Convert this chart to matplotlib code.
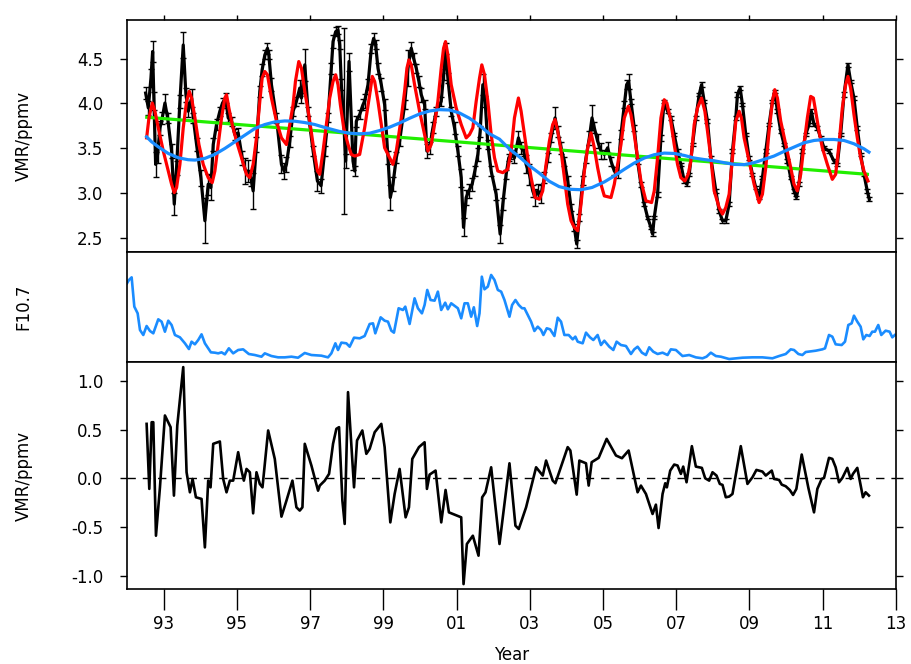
import matplotlib
matplotlib.use("Agg")
import matplotlib.pyplot as plt

# monthly mean VMR with 1-sigma errors
years = [1992.509, 1992.582, 1992.654, 1992.700, 1992.736, 1992.782, 1992.836, 1992.900, 1992.963,
         1993.036, 1993.109, 1993.218, 1993.291, 1993.354, 1993.445, 1993.536, 1993.609, 1993.673,
         1993.764, 1993.809, 1993.900, 1994.018, 1994.127, 1994.218, 1994.291, 1994.355, 1994.445,
         1994.536, 1994.609, 1994.691, 1994.764, 1994.855, 1994.945, 1995.036, 1995.145, 1995.236,
         1995.309, 1995.382, 1995.445, 1995.536, 1995.627, 1995.691, 1995.764, 1995.836, 1995.873,
         1995.945, 1996.082, 1996.218, 1996.291, 1996.354, 1996.445, 1996.536, 1996.627, 1996.718,
         1996.764, 1996.855, 1996.945, 1997.082, 1997.200, 1997.300, 1997.399, 1997.490, 1997.581,
         1997.627, 1997.699, 1997.763, 1997.809, 1997.854, 1997.918, 1997.972, 1998.063, 1998.172,
         1998.218, 1998.263, 1998.354, 1998.445, 1998.490, 1998.581, 1998.672, 1998.736, 1998.790,
         1998.854, 1998.945, 1999.036, 1999.127, 1999.191, 1999.263, 1999.354, 1999.445, 1999.581,
         1999.672, 1999.763, 1999.827, 1999.900, 1999.972, 2000.036, 2000.127, 2000.190, 2000.263,
         2000.354, 2000.445, 2000.581, 2000.645, 2000.699, 2000.763, 2000.854, 2000.945, 2001.036,
         2001.127, 2001.190, 2001.263, 2001.335, 2001.426, 2001.499, 2001.581, 2001.645, 2001.717,
         2001.781, 2001.854, 2001.945, 2002.081, 2002.190, 2002.263, 2002.354, 2002.426, 2002.490,
         2002.581, 2002.690, 2002.763, 2002.835, 2002.899, 2002.990, 2003.081, 2003.145, 2003.217,
         2003.308, 2003.399, 2003.490, 2003.581, 2003.690, 2003.763, 2003.854, 2003.944, 2004.035,
         2004.126, 2004.217, 2004.281, 2004.354, 2004.444, 2004.535, 2004.626, 2004.699, 2004.762,
         2004.853, 2004.944, 2005.035, 2005.126, 2005.217, 2005.308, 2005.399, 2005.490, 2005.581,
         2005.644, 2005.699, 2005.762, 2005.853, 2005.944, 2006.035, 2006.126, 2006.217, 2006.308,
         2006.353, 2006.399, 2006.490, 2006.581, 2006.671, 2006.762, 2006.853, 2006.944, 2007.035,
         2007.126, 2007.217, 2007.290, 2007.354, 2007.444, 2007.535, 2007.626, 2007.690, 2007.762,
         2007.853, 2007.944, 2008.081, 2008.171, 2008.262, 2008.353, 2008.444, 2008.535, 2008.626,
         2008.671, 2008.744, 2008.808, 2008.898, 2008.989, 2009.080, 2009.171, 2009.262, 2009.353,
         2009.444, 2009.535, 2009.626, 2009.690, 2009.762, 2009.853, 2009.944, 2010.035, 2010.126,
         2010.216, 2010.280, 2010.353, 2010.444, 2010.535, 2010.626, 2010.689, 2010.762, 2010.853,
         2010.944, 2011.035, 2011.171, 2011.307, 2011.398, 2011.489, 2011.580, 2011.689, 2011.762,
         2011.853, 2011.944, 2012.035, 2012.126, 2012.216, 2012.271]
vmr = [4.114, 3.948, 4.281, 4.578, 4.022, 3.318, 3.429, 3.726, 3.837,
       4.003, 3.837, 3.467, 2.874, 3.281, 4.022, 4.651, 4.096, 3.911,
       4.059, 3.837, 3.540, 3.170, 2.689, 3.096, 3.059, 3.540, 3.762,
       3.911, 4.003, 4.059, 3.837, 3.800, 3.651, 3.670, 3.392, 3.244,
       3.244, 3.170, 3.022, 3.540, 4.133, 4.374, 4.540, 4.614, 4.540,
       4.207, 3.837, 3.318, 3.244, 3.318, 3.577, 3.911, 4.022, 4.170,
       4.059, 4.429, 3.911, 3.467, 3.133, 3.080, 3.467, 3.837, 4.392,
       4.689, 4.800, 4.818, 4.651, 4.207, 3.800, 3.355, 4.466, 3.355,
       3.244, 3.800, 3.874, 3.985, 4.022, 4.207, 4.614, 4.725, 4.651,
       4.392, 4.207, 3.985, 3.392, 2.948, 3.096, 3.392, 3.577, 3.985,
       4.392, 4.614, 4.503, 4.392, 4.244, 4.096, 3.985, 3.467, 3.503,
       3.726, 3.911, 4.022, 4.318, 4.614, 4.281, 3.911, 3.726, 3.467,
       3.170, 2.615, 2.948, 3.022, 3.096, 3.244, 3.429, 3.688, 4.207,
       4.022, 3.540, 3.244, 2.985, 2.540, 2.874, 3.207, 3.392, 3.429,
       3.392, 3.614, 3.503, 3.467, 3.318, 3.207, 3.022, 2.948, 3.022,
       2.985, 3.170, 3.392, 3.614, 3.837, 3.689, 3.503, 3.355, 3.133,
       2.837, 2.615, 2.429, 2.726, 3.133, 3.392, 3.614, 3.837, 3.726,
       3.577, 3.467, 3.429, 3.503, 3.355, 3.244, 3.207, 3.651, 3.985,
       4.207, 4.244, 4.022, 3.726, 3.355, 3.096, 2.874, 2.726, 2.615,
       2.540, 2.726, 2.985, 3.614, 4.022, 3.911, 3.837, 3.651, 3.467,
       3.318, 3.133, 3.096, 3.207, 3.540, 3.837, 4.096, 4.207, 4.022,
       3.800, 3.392, 3.022, 2.800, 2.689, 2.689, 2.874, 3.467, 3.837,
       4.096, 4.170, 3.985, 3.651, 3.392, 3.207, 3.059, 2.948, 3.170,
       3.467, 3.763, 4.022, 4.133, 3.911, 3.689, 3.540, 3.355, 3.170,
       3.022, 2.948, 3.096, 3.467, 3.651, 3.763, 3.911, 3.763, 3.726,
       3.614, 3.503, 3.467, 3.355, 3.318, 3.651, 4.096, 4.429, 4.244,
       4.059, 3.726, 3.429, 3.207, 3.022, 2.929]
vmr_err = [0.07, 0.08, 0.10, 0.12, 0.10, 0.14, 0.09, 0.08, 0.07,
           0.10, 0.06, 0.08, 0.12, 0.08, 0.07, 0.14, 0.08, 0.06,
           0.10, 0.06, 0.07, 0.09, 0.25, 0.12, 0.14, 0.07, 0.06,
           0.05, 0.06, 0.06, 0.05, 0.05, 0.06, 0.05, 0.08, 0.15,
           0.12, 0.09, 0.20, 0.08, 0.06, 0.07, 0.05, 0.06, 0.05,
           0.07, 0.06, 0.10, 0.09, 0.08, 0.06, 0.05, 0.05, 0.09,
           0.06, 0.18, 0.05, 0.06, 0.11, 0.08, 0.06, 0.05, 0.06,
           0.07, 0.05, 0.04, 0.05, 0.06, 1.04, 0.08, 0.10, 0.10,
           0.06, 0.06, 0.05, 0.06, 0.08, 0.06, 0.05, 0.06, 0.05,
           0.06, 0.07, 0.06, 0.07, 0.14, 0.08, 0.06, 0.05, 0.05,
           0.20, 0.07, 0.06, 0.05, 0.06, 0.08, 0.05, 0.08, 0.07,
           0.06, 0.05, 0.05, 0.06, 0.06, 0.06, 0.05, 0.07, 0.06,
           0.10, 0.10, 0.08, 0.08, 0.07, 0.06, 0.07, 0.06, 0.12,
           0.06, 0.05, 0.06, 0.06, 0.10, 0.07, 0.05, 0.04, 0.05,
           0.06, 0.08, 0.07, 0.06, 0.10, 0.12, 0.07, 0.10, 0.08,
           0.10, 0.06, 0.05, 0.05, 0.12, 0.06, 0.07, 0.05, 0.05,
           0.04, 0.04, 0.04, 0.04, 0.05, 0.06, 0.08, 0.14, 0.06,
           0.08, 0.09, 0.05, 0.06, 0.05, 0.04, 0.04, 0.05, 0.04,
           0.05, 0.08, 0.03, 0.03, 0.03, 0.03, 0.02, 0.02, 0.02,
           0.02, 0.02, 0.03, 0.03, 0.02, 0.02, 0.02, 0.02, 0.02,
           0.02, 0.02, 0.02, 0.02, 0.02, 0.02, 0.02, 0.03, 0.02,
           0.02, 0.02, 0.02, 0.02, 0.02, 0.02, 0.02, 0.02, 0.02,
           0.03, 0.02, 0.02, 0.02, 0.02, 0.02, 0.02, 0.02, 0.02,
           0.02, 0.02, 0.02, 0.02, 0.02, 0.02, 0.02, 0.02, 0.02,
           0.02, 0.02, 0.02, 0.02, 0.02, 0.02, 0.02, 0.02, 0.02,
           0.02, 0.02, 0.02, 0.02, 0.02, 0.02, 0.03, 0.02, 0.02,
           0.02, 0.02, 0.02, 0.02, 0.02, 0.02]

# regression model (seasonal + QBO + solar + trend)
fit_years = [1992.536, 1992.600, 1992.691, 1992.763, 1992.854, 1992.991, 1993.127, 1993.218, 1993.291,
             1993.354, 1993.445, 1993.536, 1993.627, 1993.700, 1993.764, 1993.855, 1993.964, 1994.082,
             1994.218, 1994.327, 1994.400, 1994.491, 1994.582, 1994.673, 1994.718, 1994.782, 1994.873,
             1994.991, 1995.127, 1995.264, 1995.354, 1995.445, 1995.536, 1995.627, 1995.691, 1995.764,
             1995.836, 1995.945, 1996.082, 1996.218, 1996.354, 1996.445, 1996.536, 1996.600, 1996.691,
             1996.764, 1996.855, 1996.964, 1997.082, 1997.200, 1997.263, 1997.354, 1997.445, 1997.536,
             1997.627, 1997.699, 1997.763, 1997.827, 1997.918, 1998.036, 1998.127, 1998.218, 1998.354,
             1998.490, 1998.627, 1998.699, 1998.763, 1998.854, 1998.945, 1999.036, 1999.172, 1999.263,
             1999.354, 1999.490, 1999.581, 1999.645, 1999.699, 1999.763, 1999.854, 1999.990, 2000.127,
             2000.218, 2000.308, 2000.399, 2000.490, 2000.581, 2000.645, 2000.699, 2000.763, 2000.854,
             2000.990, 2001.127, 2001.263, 2001.354, 2001.445, 2001.536, 2001.627, 2001.690, 2001.763,
             2001.854, 2001.945, 2002.036, 2002.126, 2002.263, 2002.399, 2002.490, 2002.581, 2002.690,
             2002.763, 2002.854, 2002.945, 2003.036, 2003.145, 2003.263, 2003.353, 2003.444, 2003.535,
             2003.626, 2003.690, 2003.763, 2003.854, 2003.944, 2004.035, 2004.126, 2004.217, 2004.308,
             2004.399, 2004.490, 2004.581, 2004.671, 2004.762, 2004.853, 2004.944, 2005.035, 2005.217,
             2005.308, 2005.399, 2005.490, 2005.581, 2005.690, 2005.762, 2005.853, 2005.944, 2006.035,
             2006.172, 2006.326, 2006.399, 2006.490, 2006.581, 2006.671, 2006.744, 2006.835, 2006.944,
             2007.035, 2007.126, 2007.235, 2007.326, 2007.399, 2007.490, 2007.581, 2007.690, 2007.781,
             2007.853, 2007.944, 2008.035, 2008.171, 2008.262, 2008.353, 2008.444, 2008.535, 2008.626,
             2008.717, 2008.780, 2008.853, 2008.989, 2009.126, 2009.262, 2009.353, 2009.444, 2009.535,
             2009.626, 2009.690, 2009.762, 2009.853, 2009.990, 2010.126, 2010.216, 2010.307, 2010.398,
             2010.489, 2010.580, 2010.671, 2010.744, 2010.807, 2010.898, 2010.989, 2011.126, 2011.262,
             2011.353, 2011.444, 2011.535, 2011.626, 2011.689, 2011.762, 2011.853, 2011.944, 2012.035,
             2012.126, 2012.235]
fit_vmr = [3.614, 3.837, 4.003, 3.911, 3.726, 3.467, 3.244, 3.096, 3.003,
           3.059, 3.318, 3.726, 4.022, 4.133, 4.059, 3.837, 3.540, 3.318,
           3.170, 3.114, 3.244, 3.540, 3.837, 4.059, 4.096, 3.948, 3.763,
           3.577, 3.392, 3.207, 3.170, 3.318, 3.614, 4.022, 4.281, 4.355,
           4.318, 4.059, 3.800, 3.614, 3.540, 3.763, 3.985, 4.244, 4.466,
           4.392, 4.133, 3.874, 3.540, 3.244, 3.207, 3.467, 3.763, 4.059,
           4.244, 4.318, 4.207, 3.985, 3.726, 3.540, 3.429, 3.411, 3.429,
           3.726, 4.096, 4.300, 4.244, 4.022, 3.763, 3.503, 3.392, 3.318,
           3.467, 3.837, 4.133, 4.392, 4.484, 4.429, 4.207, 3.911, 3.651,
           3.467, 3.540, 3.763, 4.022, 4.392, 4.614, 4.689, 4.540, 4.207,
           3.948, 3.763, 3.614, 3.651, 3.726, 4.022, 4.281, 4.429, 4.318,
           4.022, 3.651, 3.392, 3.244, 3.226, 3.263, 3.467, 3.837, 4.059,
           3.911, 3.651, 3.392, 3.170, 2.948, 2.929, 3.022, 3.318, 3.577,
           3.763, 3.818, 3.689, 3.467, 3.170, 2.874, 2.689, 2.615, 2.577,
           2.874, 3.244, 3.503, 3.670, 3.503, 3.281, 3.096, 2.966, 2.948,
           3.096, 3.318, 3.540, 3.837, 3.966, 3.874, 3.651, 3.392, 3.133,
           2.911, 2.892, 3.022, 3.392, 3.837, 4.040, 4.003, 3.837, 3.540,
           3.318, 3.170, 3.133, 3.207, 3.355, 3.763, 3.948, 4.059, 3.911,
           3.689, 3.392, 3.022, 2.837, 2.763, 2.837, 2.985, 3.392, 3.800,
           3.911, 3.837, 3.614, 3.355, 3.096, 2.892, 2.985, 3.281, 3.689,
           4.022, 4.152, 4.059, 3.800, 3.540, 3.281, 3.096, 3.022, 3.207,
           3.540, 3.837, 4.077, 4.059, 3.911, 3.689, 3.503, 3.318, 3.151,
           3.207, 3.540, 3.948, 4.207, 4.300, 4.170, 3.874, 3.614, 3.392,
           3.244, 3.133]

# linear trend term
trend_years = [1992.54, 2012.22]
trend_vmr = [3.844, 3.207]

# solar-cycle term
solar_years = [1992.536, 1992.673, 1992.854, 1993.127, 1993.400, 1993.670, 1993.860, 1994.127, 1994.400,
               1994.673, 1994.945, 1995.218, 1995.490, 1995.764, 1996.036, 1996.309, 1996.582, 1996.855,
               1997.127, 1997.400, 1997.536, 1997.809, 1998.081, 1998.354, 1998.627, 1998.900, 1999.170,
               1999.445, 1999.718, 1999.990, 2000.263, 2000.536, 2000.810, 2001.080, 2001.354, 2001.627,
               2001.900, 2002.172, 2002.445, 2002.720, 2003.000, 2003.260, 2003.530, 2003.800, 2004.100,
               2004.400, 2004.700, 2005.035, 2005.308, 2005.581, 2005.853, 2006.126, 2006.399, 2006.671,
               2006.944, 2007.217, 2007.490, 2007.762, 2008.035, 2008.308, 2008.580, 2008.853, 2009.126,
               2009.400, 2009.670, 2009.944, 2010.216, 2010.489, 2010.762, 2011.035, 2011.307, 2011.580,
               2011.853, 2012.126, 2012.262]
solar_vmr = [3.625, 3.570, 3.514, 3.440, 3.392, 3.370, 3.366, 3.385, 3.430,
             3.496, 3.570, 3.644, 3.718, 3.763, 3.792, 3.803, 3.800, 3.785,
             3.763, 3.730, 3.715, 3.685, 3.666, 3.659, 3.666, 3.696, 3.733,
             3.780, 3.833, 3.881, 3.914, 3.929, 3.925, 3.892, 3.833, 3.752,
             3.659, 3.600, 3.490, 3.400, 3.300, 3.220, 3.130, 3.070, 3.040,
             3.035, 3.060, 3.122, 3.189, 3.263, 3.333, 3.389, 3.426, 3.444,
             3.440, 3.418, 3.389, 3.372, 3.358, 3.337, 3.318, 3.315, 3.337,
             3.374, 3.411, 3.463, 3.511, 3.559, 3.585, 3.596, 3.596, 3.585,
             3.548, 3.492, 3.455]

# monthly F10.7 solar flux
f107_years = [1992.000, 1992.055, 1992.127, 1992.200, 1992.291, 1992.355, 1992.445, 1992.536, 1992.627,
              1992.718, 1992.854, 1992.945, 1993.036, 1993.127, 1993.218, 1993.309, 1993.445, 1993.582,
              1993.691, 1993.764, 1993.854, 1993.945, 1994.036, 1994.127, 1994.291, 1994.400, 1994.491,
              1994.582, 1994.673, 1994.782, 1994.900, 1995.036, 1995.172, 1995.327, 1995.491, 1995.673,
              1995.763, 1995.945, 1996.127, 1996.309, 1996.491, 1996.672, 1996.854, 1997.036, 1997.309,
              1997.490, 1997.581, 1997.691, 1997.763, 1997.854, 1997.990, 1998.081, 1998.200, 1998.354,
              1998.490, 1998.627, 1998.718, 1998.781, 1998.927, 1999.036, 1999.127, 1999.218, 1999.290,
              1999.418, 1999.536, 1999.600, 1999.718, 1999.854, 1999.945, 2000.054, 2000.127, 2000.200,
              2000.290, 2000.400, 2000.490, 2000.581, 2000.690, 2000.763, 2000.854, 2001.036, 2001.127,
              2001.218, 2001.308, 2001.399, 2001.472, 2001.563, 2001.627, 2001.690, 2001.763, 2001.854,
              2001.945, 2002.036, 2002.127, 2002.218, 2002.309, 2002.445, 2002.517, 2002.608, 2002.699,
              2002.790, 2002.854, 2002.945, 2003.036, 2003.126, 2003.217, 2003.308, 2003.372, 2003.463,
              2003.554, 2003.672, 2003.763, 2003.853, 2003.944, 2004.062, 2004.172, 2004.244, 2004.308,
              2004.444, 2004.535, 2004.644, 2004.735, 2004.853, 2004.944, 2005.035, 2005.172, 2005.281,
              2005.371, 2005.490, 2005.626, 2005.762, 2005.853, 2005.944, 2006.062, 2006.171, 2006.262,
              2006.371, 2006.490, 2006.626, 2006.762, 2006.853, 2006.990, 2007.171, 2007.353, 2007.535,
              2007.717, 2007.826, 2007.944, 2008.081, 2008.217, 2008.444, 2008.808, 2009.080, 2009.353,
              2009.626, 2009.808, 2009.990, 2010.126, 2010.216, 2010.335, 2010.444, 2010.535, 2010.808,
              2010.990, 2011.062, 2011.171, 2011.262, 2011.353, 2011.517, 2011.608, 2011.699, 2011.790,
              2011.853, 2011.944, 2012.035, 2012.108, 2012.190, 2012.280, 2012.353, 2012.426, 2012.517,
              2012.599, 2012.717, 2012.826, 2012.899, 2012.971]
f107 = [214.2, 220.8, 226.0, 168.2, 155.0, 122.1, 112.3, 130.0, 120.2,
        115.6, 143.2, 138.6, 118.8, 140.5, 132.0, 112.3, 107.7, 95.9,
        84.6, 99.1, 93.9, 102.4, 113.6, 95.9, 78.1, 77.4, 76.1,
        78.1, 74.1, 86.0, 76.1, 82.7, 84.0, 74.8, 72.8, 69.5,
        76.1, 70.8, 68.2, 68.2, 69.5, 67.5, 76.8, 72.8, 71.5,
        68.2, 76.1, 95.9, 82.7, 97.2, 95.9, 89.2, 107.0, 105.7,
        110.3, 134.0, 135.3, 115.6, 147.1, 140.5, 138.6, 120.8, 116.9,
        165.0, 161.6, 168.2, 134.0, 184.6, 165.0, 155.0, 171.5, 201.1,
        181.3, 180.0, 197.8, 161.6, 176.0, 163.0, 174.8, 165.0, 145.2,
        174.8, 174.8, 148.4, 166.9, 130.0, 155.0, 227.3, 202.4, 207.7,
        230.7, 220.8, 201.1, 197.8, 181.3, 148.4, 171.5, 181.3, 171.5,
        165.0, 165.0, 151.7, 138.6, 120.2, 128.7, 122.1, 112.3, 125.5,
        123.5, 110.3, 146.4, 138.6, 112.3, 112.3, 103.7, 109.0, 99.1,
        95.9, 116.9, 107.7, 102.4, 112.3, 92.5, 101.0, 89.2, 82.7,
        99.1, 92.5, 90.6, 74.8, 84.0, 89.2, 77.4, 72.8, 88.0,
        79.4, 74.8, 77.4, 72.8, 84.0, 82.7, 70.8, 72.8, 68.2,
        66.3, 69.5, 77.4, 70.8, 69.5, 64.9, 67.5, 68.2, 68.2,
        66.3, 70.8, 74.8, 84.0, 82.7, 74.8, 72.8, 78.7, 81.3,
        84.0, 86.0, 112.3, 109.0, 93.9, 92.5, 99.1, 132.0, 135.3,
        150.4, 138.6, 128.7, 103.7, 112.3, 110.3, 118.8, 118.8, 132.0,
        112.3, 120.8, 118.8, 107.7, 112.3]

# residuals: data minus model
res_years = [1992.536, 1992.609, 1992.673, 1992.718, 1992.791, 1992.900, 1993.036, 1993.191, 1993.282,
             1993.373, 1993.536, 1993.627, 1993.718, 1993.791, 1993.882, 1994.036, 1994.127, 1994.218,
             1994.282, 1994.355, 1994.536, 1994.627, 1994.718, 1994.809, 1994.900, 1995.036, 1995.127,
             1995.191, 1995.264, 1995.355, 1995.445, 1995.536, 1995.627, 1995.700, 1995.855, 1996.036,
             1996.218, 1996.355, 1996.518, 1996.627, 1996.718, 1996.791, 1996.855, 1997.036, 1997.218,
             1997.264, 1997.400, 1997.518, 1997.627, 1997.718, 1997.791, 1997.882, 1997.945, 1998.036,
             1998.200, 1998.282, 1998.427, 1998.536, 1998.627, 1998.764, 1998.945, 1999.036, 1999.191,
             1999.309, 1999.445, 1999.609, 1999.700, 1999.791, 1999.973, 2000.127, 2000.191, 2000.264,
             2000.427, 2000.582, 2000.700, 2000.791, 2001.127, 2001.191, 2001.282, 2001.445, 2001.600,
             2001.700, 2001.791, 2001.945, 2002.173, 2002.445, 2002.608, 2002.699, 2002.899, 2003.172,
             2003.354, 2003.445, 2003.626, 2003.699, 2004.035, 2004.108, 2004.281, 2004.354, 2004.535,
             2004.608, 2004.690, 2004.881, 2005.099, 2005.353, 2005.517, 2005.699, 2005.944, 2006.035,
             2006.172, 2006.353, 2006.444, 2006.517, 2006.626, 2006.699, 2006.744, 2006.835, 2006.944,
             2007.035, 2007.126, 2007.190, 2007.281, 2007.426, 2007.535, 2007.699, 2007.790, 2007.899,
             2007.990, 2008.099, 2008.190, 2008.263, 2008.353, 2008.444, 2008.535, 2008.762, 2008.944,
             2009.080, 2009.189, 2009.353, 2009.444, 2009.608, 2009.671, 2009.808, 2009.880, 2009.990,
             2010.099, 2010.190, 2010.280, 2010.426, 2010.608, 2010.762, 2010.853, 2010.971, 2011.035,
             2011.171, 2011.262, 2011.353, 2011.444, 2011.535, 2011.671, 2011.762, 2011.826, 2011.944,
             2012.098, 2012.171, 2012.262]
residual = [0.559, -0.109, 0.576, 0.576, -0.590, -0.093, 0.645, 0.525, -0.178,
            0.542, 1.142, 0.062, -0.144, -0.007, -0.195, -0.212, -0.710, -0.024,
            -0.093, 0.354, 0.378, -0.007, -0.144, -0.024, -0.024, 0.268, 0.079,
            -0.024, 0.096, 0.062, -0.360, 0.062, -0.058, -0.093, 0.491, 0.199,
            -0.394, -0.229, -0.024, -0.298, -0.332, -0.298, 0.354, 0.131, -0.127,
            -0.075, -0.024, 0.045, 0.354, 0.508, 0.525, -0.229, -0.469, 0.885,
            -0.093, 0.388, 0.491, 0.251, 0.302, 0.473, 0.559, 0.320, -0.453,
            -0.161, 0.096, -0.401, -0.298, 0.199, 0.320, 0.370, -0.109, 0.038,
            0.079, -0.453, -0.120, -0.350, -0.401, -1.087, -0.675, -0.590, -0.795,
            -0.195, -0.144, 0.113, -0.675, 0.154, -0.487, -0.521, -0.298, 0.113,
            0.028, 0.182, -0.024, -0.051, 0.320, 0.285, -0.168, 0.182, 0.154,
            -0.075, 0.165, 0.210, 0.405, 0.234, 0.206, 0.285, -0.144, -0.075,
            -0.161, -0.367, -0.271, -0.511, -0.161, -0.051, -0.093, 0.079, 0.141,
            0.131, 0.045, 0.120, -0.041, 0.330, 0.120, 0.107, 0.000, -0.024,
            0.062, 0.028, -0.058, -0.068, -0.195, -0.188, -0.161, 0.330, -0.058,
            0.010, 0.086, 0.069, 0.028, 0.079, -0.007, -0.017, -0.065, -0.082,
            -0.120, -0.171, -0.109, 0.244, -0.099, -0.350, -0.109, -0.007, 0.003,
            0.210, 0.199, 0.113, -0.041, 0.003, 0.107, -0.007, 0.045, 0.107,
            -0.195, -0.144, -0.178]

tick_years = [1993, 1995, 1997, 1999, 2001, 2003, 2005, 2007, 2009, 2011, 2013]
tick_labels = ["93", "95", "97", "99", "01", "03", "05", "07", "09", "11", "13"]

plt.rcParams["font.family"] = "DejaVu Sans"
plt.rcParams["font.size"] = 12
plt.rcParams["axes.linewidth"] = 1.2

blue = "#1a8cff"

fig = plt.figure(figsize=(9.11, 6.64), dpi=100)
ax1 = fig.add_axes([0.1394, 0.6205, 0.8441, 0.3494])
ax2 = fig.add_axes([0.1394, 0.4548, 0.8441, 0.1657])
ax3 = fig.add_axes([0.1394, 0.1130, 0.8441, 0.3419])

# top: data, model, trend and solar term
ax1.errorbar(years, vmr, yerr=vmr_err, color="black", lw=2.3, elinewidth=1.0,
             capsize=2, capthick=1.0, zorder=2)
ax1.plot(trend_years, trend_vmr, color="#22ee00", lw=2.3, zorder=3)
ax1.plot(fit_years, fit_vmr, color="red", lw=2.3, zorder=4)
ax1.plot(solar_years, solar_vmr, color=blue, lw=2.3, zorder=5)
ax1.set_ylim(2.34, 4.93)
ax1.set_yticks([2.5, 3.0, 3.5, 4.0, 4.5])
ax1.set_yticklabels(["2.5", "3.0", "3.5", "4.0", "4.5"])
ax1.set_ylabel("VMR/ppmv")
ax1.tick_params(axis="y", direction="out", length=5, width=1, left=True, right=True, pad=12)
ax1.tick_params(axis="x", direction="out", length=3.6, width=1, top=True, bottom=False,
                labelbottom=False)

# middle: F10.7 index
ax2.plot(f107_years, f107, color=blue, lw=1.9)
ax2.set_ylim(59, 276)
ax2.set_yticks([])
ax2.set_ylabel("F10.7")
ax2.tick_params(axis="x", bottom=False, labelbottom=False)

# bottom: residuals
ax3.plot(res_years, residual, color="black", lw=1.9)
ax3.axhline(0, color="black", lw=1.0, ls=(0, (6, 5)))
ax3.set_ylim(-1.137, 1.195)
ax3.set_yticks([-1.0, -0.5, 0.0, 0.5, 1.0])
ax3.set_yticklabels(["-1.0", "-0.5", "0.0", "0.5", "1.0"])
ax3.set_ylabel("VMR/ppmv")
ax3.tick_params(axis="y", direction="out", length=5, width=1, left=True, right=True, pad=12)
ax3.tick_params(axis="x", direction="out", length=15, width=1, pad=4)

for ax in (ax1, ax2, ax3):
    ax.set_xlim(1992, 2013)
    ax.set_xticks(tick_years)
    ax.yaxis.set_label_coords(-0.123, 0.5)
ax3.set_xticklabels(tick_labels)

fig.text(0.5615, 1 - 655 / 664, "Year", ha="center", va="center", fontsize=12)

fig.savefig("out.png", dpi=100)
